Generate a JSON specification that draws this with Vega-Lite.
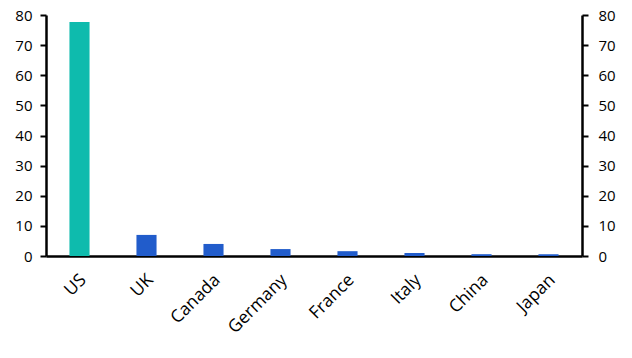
{
  "$schema": "https://vega.github.io/schema/vega-lite/v6.json",
  "width": 536,
  "height": 241,
  "autosize": "none",
  "padding": {"left": 46, "top": 15, "right": 50, "bottom": 102},
  "background": "white",
  "config": {
    "view": {"stroke": null},
    "font": "Open Sans",
    "axis": {"labelFont": "Open Sans", "labelFontSize": 15, "labelColor": "black", "domainColor": "black", "tickColor": "black", "grid": false, "title": null}
  },
  "data": {"values": [
    {"country": "US", "value": 77.7, "group": "US"},
    {"country": "UK", "value": 7.0, "group": "other"},
    {"country": "Canada", "value": 4.0, "group": "other"},
    {"country": "Germany", "value": 2.3, "group": "other"},
    {"country": "France", "value": 1.6, "group": "other"},
    {"country": "Italy", "value": 1.0, "group": "other"},
    {"country": "China", "value": 0.6, "group": "other"},
    {"country": "Japan", "value": 0.6, "group": "other"}
  ]},
  "encoding": {
    "x": {"field": "country", "type": "nominal", "sort": null,
      "scale": {"paddingInner": 0, "paddingOuter": 0},
      "axis": {"labelAngle": -45, "ticks": false, "domainWidth": 2.5, "labelPadding": 21, "labelOffset": 4, "labelFontSize": 17.5, "labelAlign": "right", "labelBaseline": "middle"}}
  },
  "layer": [
    {
      "mark": {"type": "bar", "width": {"band": 0.3}},
      "encoding": {
        "y": {"field": "value", "type": "quantitative", "scale": {"domain": [0, 80], "nice": false},
          "axis": {"orient": "left", "values": [0,10,20,30,40,50,60,70,80], "domainWidth": 2.5, "tickWidth": 2, "tickSize": 6, "labelPadding": 8}},
        "color": {"field": "group", "type": "nominal", "scale": {"domain": ["US", "other"], "range": ["#0EBBAD", "#215CCB"]}, "legend": null}
      }
    },
    {
      "mark": {"type": "bar", "width": {"band": 0.3}, "opacity": 0},
      "encoding": {
        "y": {"field": "value", "type": "quantitative", "scale": {"domain": [0, 80], "nice": false},
          "axis": {"orient": "right", "values": [0,10,20,30,40,50,60,70,80], "domainWidth": 2.5, "tickWidth": 2, "tickSize": 6, "labelPadding": 10}}
      }
    }
  ],
  "resolve": {"axis": {"y": "independent"}}
}
